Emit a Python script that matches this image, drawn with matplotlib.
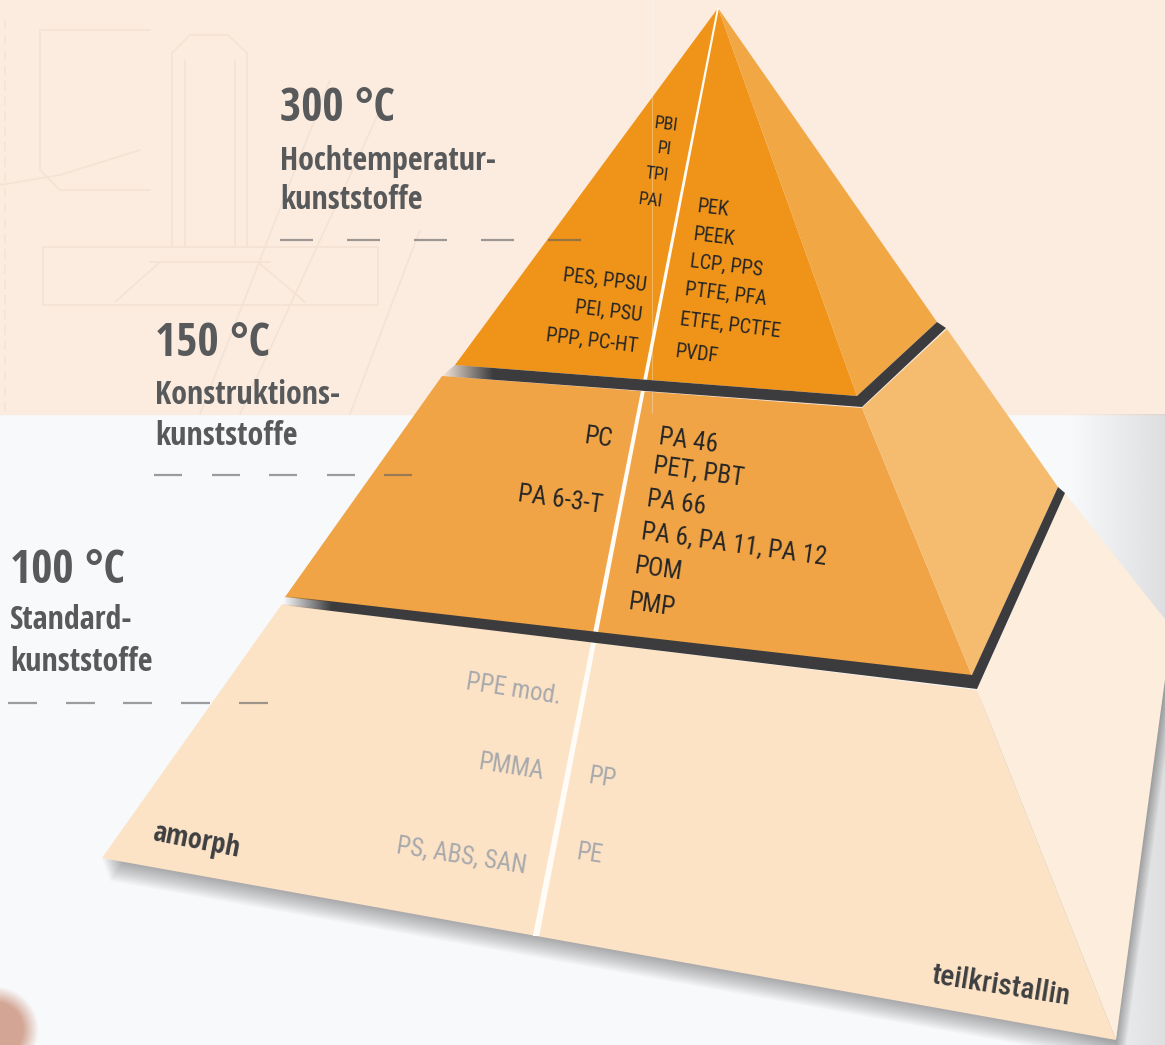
import numpy as np
import matplotlib
matplotlib.use('Agg')
import matplotlib.pyplot as plt
from matplotlib import font_manager as fm
from matplotlib.font_manager import FontProperties
from matplotlib.patches import Polygon, Rectangle
from matplotlib.colors import to_rgb

# ---------------- data ----------------
temperatures = ['300 °C', '150 °C', '100 °C']
class_line1 = ['Hochtemperatur-', 'Konstruktions-', 'Standard-']
class_line2 = ['kunststoffe', 'kunststoffe', 'kunststoffe']
high_amorph_top = ['PBI', 'PI', 'TPI', 'PAI']
high_amorph = ['PES, PPSU', 'PEI, PSU', 'PPP, PC-HT']
high_semi = ['PEK', 'PEEK', 'LCP, PPS', 'PTFE, PFA', 'ETFE, PCTFE', 'PVDF']
eng_amorph = ['PC', 'PA 6-3-T']
eng_semi = ['PA 46', 'PET, PBT', 'PA 66', 'PA 6, PA 11, PA 12', 'POM', 'PMP']
std_amorph = ['PPE mod.', 'PMMA', 'PS, ABS, SAN']
std_semi = ['PP', 'PE']
side_labels = ['amorph', 'teilkristallin']

# ---------------- figure ----------------
W, H = 1165, 1045
fig = plt.figure(figsize=(W / 100, H / 100), dpi=100)
ax = fig.add_axes([0, 0, 1, 1])
ax.axis('off')
renderer = fig.canvas.get_renderer()

# ---------------- fonts ----------------
entries = fm.fontManager.ttflist
PREF = ['Roboto Condensed', 'Open Sans Condensed', 'Noto Sans', 'Noto Sans Condensed',
        'Open Sans', 'Liberation Sans Narrow', 'DejaVu Sans Condensed', 'DejaVu Sans']


def wnum(w):
    if isinstance(w, str):
        return fm.weight_dict.get(w, 400)
    return int(w)


def rank(name):
    return PREF.index(name) if name in PREF else len(PREF)


cond = [f for f in entries if (f.stretch == 'condensed' or 'Condensed' in f.name
                               or 'Narrow' in f.name) and f.style == 'normal'
        and f.fname.lower().endswith(('.ttf', '.otf'))]


def best(target, prefer=None):
    pool = cond
    if prefer:
        sub = [f for f in cond if f.name == prefer]
        if sub:
            pool = sub
    if pool:
        f = min(pool, key=lambda f: (abs(wnum(f.weight) - target), rank(f.name)))
        if abs(wnum(f.weight) - target) <= 150:
            return f.fname
    return fm.findfont(FontProperties(family='Open Sans', weight=target))


F_BOLD = best(700, 'Open Sans Condensed')
F_REG = best(400)
F_MED = best(500)


def fp_of(fname, size):
    return FontProperties(fname=fname, size=size)


def fit(text, width_px, cap_px, fname):
    fp = fp_of(fname, 10)
    w, h, d = renderer.get_text_width_height_descent(text, fp, ismath=False)
    wc, hc, dc = renderer.get_text_width_height_descent('H', fp, ismath=False)
    return min(10 * width_px / w, 10 * cap_px / (hc - dc))


def label(x, y, s, size, ha, rot, color, fname, z=20):
    ax.text(x, y, s, fontproperties=fp_of(fname, size), ha=ha, va='baseline',
            rotation=rot, rotation_mode='anchor', color=color, zorder=z)


def grad_fill(poly, x0, x1, color, a0, a1, z):
    pts = np.array(poly, float)
    xmin, ymin = pts.min(0)
    xmax, ymax = pts.max(0)
    n = 256
    img = np.zeros((1, n, 4))
    img[..., :3] = to_rgb(color)
    xs = np.linspace(xmin, xmax, n)
    img[0, :, 3] = np.clip(a0 + (a1 - a0) * (xs - x0) / (x1 - x0),
                           min(a0, a1), max(a0, a1))
    im = ax.imshow(img, extent=(xmin, xmax, ymax, ymin), aspect='auto',
                   interpolation='bilinear', zorder=z, origin='upper')
    im.set_clip_path(Polygon(pts, closed=True, transform=ax.transData))


# ---------------- background ----------------
ax.add_patch(Rectangle((0, 0), W, H, color='#F8F9FB', zorder=0))
ax.add_patch(Rectangle((0, 0), W, 414, color='#FBECDF', zorder=0.5))

# faint technical drawing in the upper band
tech = '#F4E3D4'
tech_lines = [
    [(43, 247), (378, 247), (378, 305), (43, 305), (43, 247)],
    [(172, 247), (172, 53), (190, 35), (228, 35), (247, 53), (247, 247)],
    [(185, 60), (185, 247)], [(235, 60), (235, 247)],
    [(160, 262), (115, 302)], [(258, 262), (305, 302)],
    [(150, 262), (270, 262)],
    [(40, 30), (40, 170), (60, 190), (150, 190)],
    [(40, 30), (150, 30)],
    [(200, 414), (330, 80)], [(240, 414), (380, 110)], [(350, 414), (420, 230)],
    [(0, 185), (60, 175), (140, 150)],
]
for ln in tech_lines:
    xs, ys = zip(*ln)
    ax.plot(xs, ys, color=tech, lw=1.2, zorder=1, solid_capstyle='round')
ax.plot([5, 5], [20, 412], color=tech, lw=1.1, ls=(0, (6, 4)), zorder=1)

# right-side grey shadow
grad_fill([(1000, 414), (W, 414), (W, H), (1000, H)], 1070, W, '#9A9A9A', 0.0, 0.28, 1)

# blurred finger tip, bottom-left
n = 160
gx, gy = np.meshgrid(np.linspace(-80, 80, n), np.linspace(-80, 80, n))
r = np.hypot(gx, gy)
img = np.zeros((n, n, 4))
img[..., :3] = to_rgb('#CF9C88')
img[..., 3] = np.clip((44 - r) / 16, 0, 1) * 0.9
ax.imshow(img, extent=(-85, 75, 1110, 950), aspect='auto', zorder=1, interpolation='bilinear')

# ---------------- pyramid ----------------
top_front = [(718, 8), (857, 396), (455, 365)]
top_right = [(718, 8), (937, 322), (857, 396)]
mid_front = [(442, 376), (862, 408), (972, 676), (285, 597)]
mid_right = [(862, 408), (947, 329), (1058, 487), (972, 676)]
bot_front = [(282, 604), (977, 690), (1116, 1040), (102, 858)]
bot_right = [(977, 690), (1065, 493), (1172, 628), (1116, 1040)]
band1 = [(455, 365), (857, 396), (937, 322), (946, 328), (862, 407), (442, 376)]
band2 = [(285, 596), (972, 675), (1058, 487), (1065, 493), (977, 689), (282, 605)]

# soft shadow below the base
for i in range(14):
    off = [(x + 0.6 * i, y + 1.6 * i + 2) for x, y in bot_front + bot_right]
    ax.add_patch(Polygon([off[3], off[0], off[1], off[6], off[7], off[2]], closed=True,
                         color='black', alpha=0.022, lw=0, zorder=2))

faces = [(bot_front, '#FCE3C6'), (bot_right, '#FCEDDC'),
         (mid_front, '#F0A446'), (mid_right, '#F5BC6F'),
         (top_front, '#EF9419'), (top_right, '#F2A745')]
for poly, col in faces:
    ax.add_patch(Polygon(poly, closed=True, color=col, lw=0, zorder=3))

# white divider line amorph | teilkristallin
ya, yb = 8, 936
xa, xb = 718, 536
ax.add_patch(Polygon([(xa - 1, ya), (xb - 3.2, yb), (xb + 3.2, yb), (xa + 1, ya)],
                     closed=True, color='#FFFBF6', lw=0, zorder=4))
# faint vertical guide
ax.plot([652, 652], [0, 413], color='white', lw=0.8, alpha=0.3, zorder=4.5)

# dark separating bands, fading out at the left end
grad_fill(band1, 440, 492, '#3C3C3E', 0.0, 1.0, 5)
grad_fill(band2, 282, 330, '#3C3C3E', 0.0, 1.0, 5)

# ---------------- headings ----------------
head_col = '#58595B'
head_x = [280, 155, 10]
head_y = [(121, 170, 209), (356, 404, 445), (583, 629, 671)]
s_temp = fit('300 °C', 118, 33, F_BOLD)
s_sub = fit('Hochtemperatur-', 217, 24, F_BOLD)
for i in range(3):
    y0, y1, y2 = head_y[i]
    label(head_x[i], y0, temperatures[i], s_temp, 'left', 0, head_col, F_BOLD)
    label(head_x[i], y1, class_line1[i], s_sub, 'left', 0, head_col, F_BOLD)
    label(head_x[i], y2, class_line2[i], s_sub, 'left', 0, head_col, F_BOLD)

# dashed guide lines
dash_specs = [(280, 33, 67, 240), (154, 28, 57.5, 475), (8, 29, 57.7, 703)]
for x0, ln, per, y in dash_specs:
    for k in range(5):
        ax.plot([x0 + k * per, x0 + k * per + ln], [y, y], color='#5E5E60',
                alpha=0.6, lw=1.6, solid_capstyle='butt', zorder=6)

# ---------------- polymer labels ----------------
dark = '#262626'
grey = '#A8A9AC'
s_top = fit('ETFE, PCTFE', 115, 16, F_REG)
s_small = s_top * 0.88
s_mid = fit('PA 6, PA 11, PA 12', 196, 20, F_REG)
s_bot = fit('PS, ABS, SAN', 132, 20, F_REG)

pos_top_small = [(677, 131), (671, 155), (668, 181), (662, 207)]
for (x, y), s in zip(pos_top_small, high_amorph_top):
    label(x, y, s, s_small, 'right', -7, dark, F_REG)
pos_high_amorph = [(646, 291), (641, 321), (637, 352)]
for (x, y), s in zip(pos_high_amorph, high_amorph):
    label(x, y, s, s_top, 'right', -7, dark, F_REG)
pos_high_semi = [(697, 212), (693, 240), (689, 267), (684, 295), (679, 325), (675, 357)]
for (x, y), s in zip(pos_high_semi, high_semi):
    label(x, y, s, s_top, 'left', -7, dark, F_REG)

pos_eng_amorph = [(611, 447), (601, 513)]
for (x, y), s in zip(pos_eng_amorph, eng_amorph):
    label(x, y, s, s_mid, 'right', -8, dark, F_REG)
pos_eng_semi = [(658, 444), (652, 473), (646, 506), (640, 539), (633, 573), (627, 609)]
for (x, y), s in zip(pos_eng_semi, eng_semi):
    label(x, y, s, s_mid, 'left', -8, dark, F_REG)

pos_std_amorph = [(560, 704), (542, 779), (525, 873)]
for (x, y), s in zip(pos_std_amorph, std_amorph):
    label(x, y, s, s_bot, 'right', -9, grey, F_REG)
pos_std_semi = [(587, 783), (575, 859)]
for (x, y), s in zip(pos_std_semi, std_semi):
    label(x, y, s, s_bot, 'left', -9, grey, F_REG)

s_am = fit('amorph', 88, 40, F_BOLD)
s_tk = fit('teilkristallin', 139, 40, F_MED)
label(152, 840, side_labels[0], s_am, 'left', -11, '#3E3F41', F_BOLD)
label(931, 983, side_labels[1], s_tk, 'left', -9, '#3E3F41', F_MED)

ax.set_xlim(0, W)
ax.set_ylim(H, 0)
fig.savefig('out.png', dpi=100)
